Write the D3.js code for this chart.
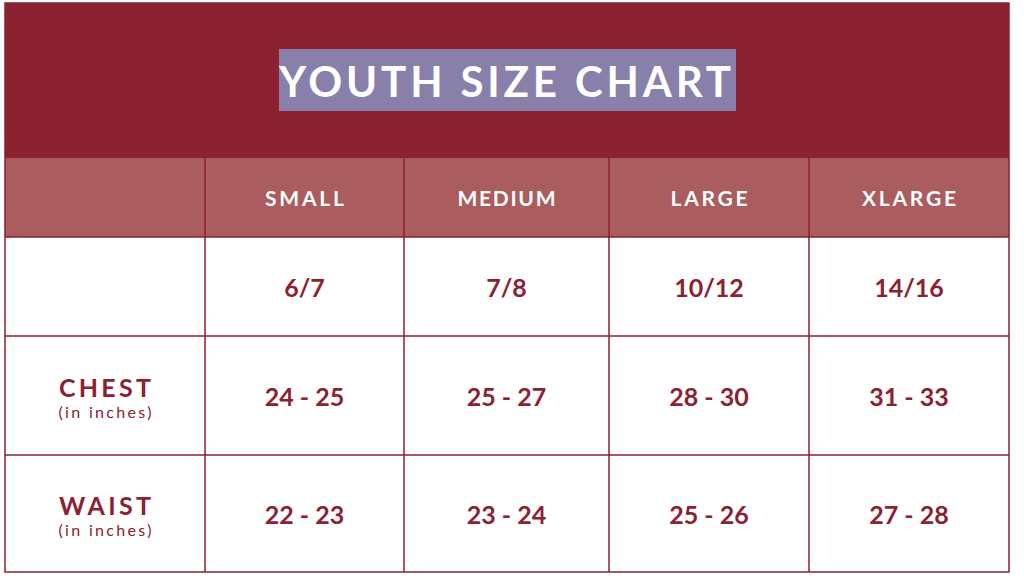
<!DOCTYPE html>
<html><head><meta charset="utf-8">
<script src="https://cdn.jsdelivr.net/npm/d3@7"></script>
<style>body{margin:0;background:#fff}svg{display:block}</style>
</head><body>
<svg id="c" width="1024" height="585"></svg>
<script>
const title = "YOUTH SIZE CHART";
const sizes = ["SMALL", "MEDIUM", "LARGE", "XLARGE"];
const youthSizes = ["6/7", "7/8", "10/12", "14/16"];
const chest = ["24 - 25", "25 - 27", "28 - 30", "31 - 33"];
const waist = ["22 - 23", "23 - 24", "25 - 26", "27 - 28"];
const rowLabels = [null, "CHEST", "WAIST"];
const rowNotes = [null, "(in inches)", "(in inches)"];

const dark = "#8b2131", head = "#ab5c5e", hl = "#8880aa";
const F = "Lato, 'Open Sans', sans-serif";
const svg = d3.select("#c");
const cols = ["label"].concat(sizes);
// column edges (layout)
const colEdges = [5, 205, 404, 609, 809, 1009];
const L = colEdges[0], R = colEdges[colEdges.length - 1];
const x = d3.scaleOrdinal().domain(cols).range(colEdges.slice(0, 5));
const w = d3.scaleOrdinal().domain(cols).range(colEdges.slice(1).map((e, i) => e - colEdges[i]));
const cx = c => x(c) + w(c) / 2;

// row boundaries (layout)
const rowsY = [3, 158, 237, 336, 455, 572];
const bodyRows = [youthSizes, chest, waist];

// title band
svg.append("rect").attr("x", L).attr("y", rowsY[0]).attr("width", R - L).attr("height", rowsY[1] - rowsY[0]).attr("fill", dark);
svg.append("rect").attr("x", 279).attr("y", 49).attr("width", 457).attr("height", 62).attr("fill", hl);
svg.append("text").attr("x", 279).attr("y", 97)
  .attr("font-family", F).attr("font-weight", 700).attr("font-size", 42)
  .attr("fill", "#fff").attr("textLength", 452).attr("lengthAdjust", "spacing").text(title);

// header row
svg.append("rect").attr("x", L).attr("y", rowsY[1]).attr("width", R - L).attr("height", rowsY[2] - rowsY[1]).attr("fill", head);
const hw = {SMALL: 79, MEDIUM: 98, LARGE: 77, XLARGE: 94};
svg.selectAll("text.h").data(sizes).join("text").attr("class", "h")
  .attr("x", d => cx(d)).attr("y", 206)
  .attr("text-anchor", "middle").attr("font-family", F).attr("font-weight", 700)
  .attr("font-size", 21).attr("fill", "#fff")
  .attr("textLength", d => hw[d]).attr("lengthAdjust", "spacing").text(d => d);

// body background
svg.append("rect").attr("x", L).attr("y", rowsY[2]).attr("width", R - L).attr("height", rowsY[5] - rowsY[2]).attr("fill", "#fff");

// body values
bodyRows.forEach((vals, i) => {
  const y0 = rowsY[i + 2], y1 = rowsY[i + 3], cy = (y0 + y1) / 2;
  svg.selectAll("text.v" + i).data(vals).join("text").attr("class", "v" + i)
    .attr("x", (d, j) => cx(sizes[j])).attr("y", cy + 10)
    .attr("text-anchor", "middle").attr("font-family", F).attr("font-weight", 700)
    .attr("font-size", 25).attr("fill", dark).text(d => d);
  if (rowLabels[i]) {
    svg.append("text").attr("x", cx("label")).attr("y", cy + 1).attr("text-anchor", "middle")
      .attr("font-family", F).attr("font-weight", 700).attr("font-size", 25).attr("fill", dark)
      .attr("textLength", 92).attr("lengthAdjust", "spacing").text(rowLabels[i]);
    svg.append("text").attr("x", cx("label")).attr("y", cy + 22.5).attr("text-anchor", "middle")
      .attr("font-family", F).attr("font-weight", 400).attr("font-size", 16).attr("fill", dark)
      .attr("textLength", 93).attr("lengthAdjust", "spacing").text(rowNotes[i]);
  }
});

// grid lines
const g = svg.append("g").attr("stroke", dark).attr("stroke-width", 1.5).attr("fill", "none");
cols.slice(1).forEach(c => {
  g.append("line").attr("x1", x(c)).attr("x2", x(c)).attr("y1", rowsY[1]).attr("y2", rowsY[5]);
});
rowsY.slice(2, 5).forEach(y => {
  g.append("line").attr("x1", L).attr("x2", R).attr("y1", y).attr("y2", y);
});
g.append("rect").attr("x", L).attr("y", rowsY[0]).attr("width", R - L).attr("height", rowsY[5] - rowsY[0]);
</script>
</body></html>
